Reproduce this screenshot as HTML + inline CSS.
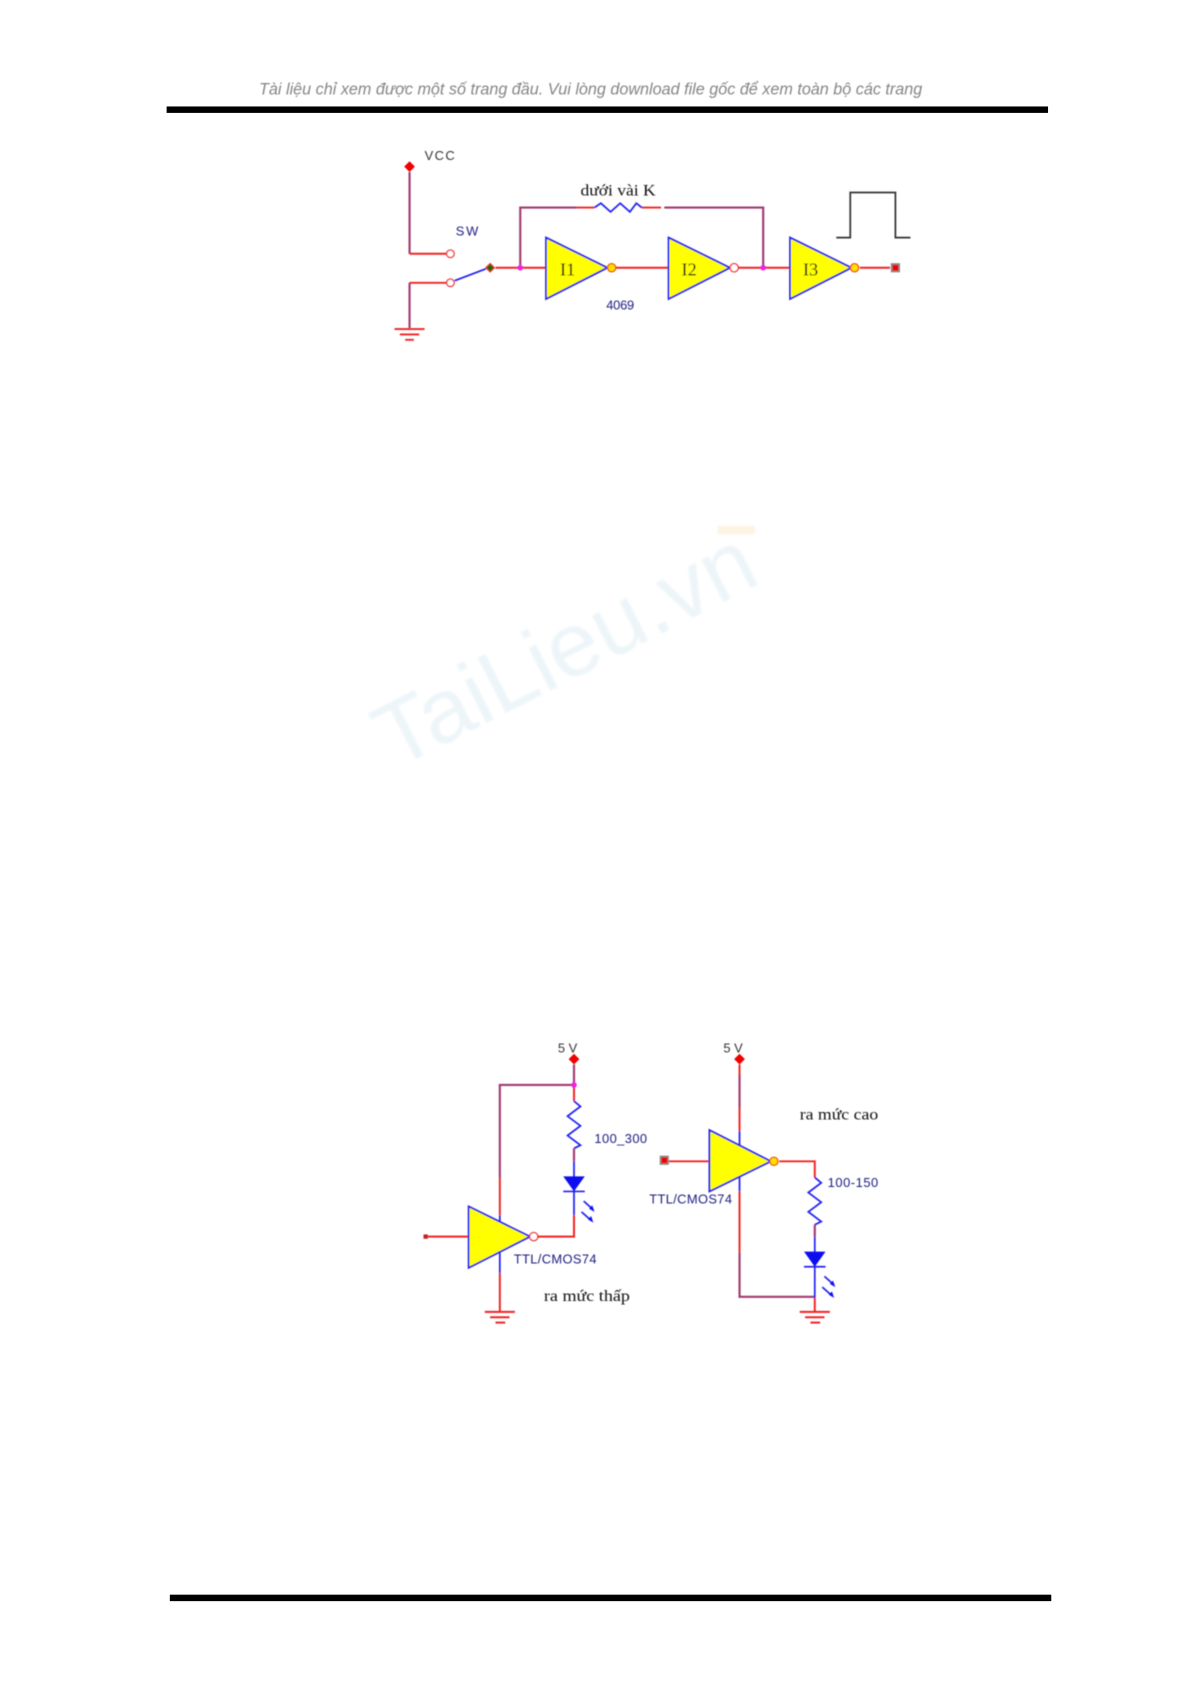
<!DOCTYPE html>
<html><head><meta charset="utf-8"><style>
html,body{margin:0;padding:0;background:#fff;width:1191px;height:1685px;overflow:hidden}
svg{display:block}
.a{font-family:"Liberation Sans",sans-serif;font-size:12px;fill:#1c1c80}
.k{font-family:"Liberation Sans",sans-serif;font-size:12px;fill:#333}
.s{font-family:"Liberation Serif",serif;font-size:15px;fill:#111}
.i{font-family:"Liberation Serif",serif;font-size:17px;fill:#111}
.r{stroke:#f02020;stroke-width:1.8;fill:none}
.p{stroke:#a03a70;stroke-width:2;fill:none}
.b{stroke:#2020f0;stroke-width:1.6;fill:none}
.t{fill:#ffff00;stroke:#2020f0;stroke-width:1.7}
.o{fill:#fff;stroke:#f02020;stroke-width:1.2}
.y{fill:#ffe000;stroke:#f05000;stroke-width:1.2}
.d{fill:#f00000}
.j{fill:#f020e0}
.q{fill:#f00000;stroke:#888;stroke-width:1.5}
</style></head><body>
<svg width="1191" height="1685" viewBox="0 0 1108 1567" preserveAspectRatio="none" xmlns="http://www.w3.org/2000/svg">
<defs><filter id="f" x="-5%" y="-5%" width="110%" height="110%"><feGaussianBlur stdDeviation="0.5"/></filter>
<filter id="w" x="-10%" y="-10%" width="120%" height="120%"><feGaussianBlur stdDeviation="1.1"/></filter></defs>
<rect width="1108" height="1567" fill="#fff"/>
<g filter="url(#w)">
<text x="367" y="716" transform="rotate(-27 367 716)" font-family="'Liberation Sans',sans-serif" font-size="84" fill="#edf5f9" textLength="385" lengthAdjust="spacingAndGlyphs">TaiLieu.vn</text>
<rect x="668" y="489" width="34" height="8" fill="#fdf3e2"/>
</g>
<text x="241" y="88" font-family="'Liberation Sans',sans-serif" font-style="italic" font-size="15.5" fill="#858585" textLength="617" lengthAdjust="spacingAndGlyphs" filter="url(#f)">Tài liệu chỉ xem được một số trang đầu. Vui lòng download file gốc để xem toàn bộ các trang</text>
<rect x="155" y="99" width="820" height="6" fill="#000"/>
<rect x="158" y="1483" width="820" height="6" fill="#000"/>

<g filter="url(#f)">
<!-- top circuit -->
<path class="p" d="M381 160V236"/><path class="r" d="M381 236H415"/>
<path class="r" d="M415 263H381"/><path class="p" d="M381 263V305"/>
<path class="r" d="M367 306H395M372 311H390M377 316H385"/>
<circle class="o" cx="419" cy="236" r="3.5"/><circle class="o" cx="419" cy="263" r="3.5"/>
<path class="b" d="M423 261L452 250"/>
<path d="M456 245L460 249L456 253L452 249Z" fill="#0a6a0a" stroke="#f02020"/>
<path class="r" d="M461 249H508M573 249H622M687 249H735M800 249H828"/>
<path class="p" d="M484 249V193H537M618 193H710V249"/>
<path class="r" d="M537 193H553M597 193H615"/>
<path class="b" d="M553 193L559 189L568 197L577 189L586 197L592 189L597 193"/>
<circle class="j" cx="484" cy="249" r="2.6"/><circle class="j" cx="710" cy="249" r="2.6"/>
<path class="t" d="M508 221V278L565 249Z"/><path class="t" d="M622 221V278L679 249Z"/><path class="t" d="M735 221V278L792 249Z"/>
<circle class="y" cx="569" cy="249" r="3.8"/><circle class="o" cx="683" cy="249" r="3.8"/><circle class="y" cx="795" cy="249" r="3.8"/>
<rect class="q" x="829.5" y="245.5" width="7" height="7"/>
<path d="M778 221H791V179H833V221H847" fill="none" stroke="#333" stroke-width="1.6"/>
<path class="d" d="M381 150L386 155L381 160L376 155Z"/>
<text class="k" x="395" y="149" textLength="28">VCC</text>
<text class="a" x="424" y="219" textLength="21" font-size="11">SW</text>
<text class="s" x="540" y="182" textLength="70" lengthAdjust="spacingAndGlyphs">dưới vài K</text>
<text class="a" x="564" y="288" textLength="26">4069</text>
<text class="i" x="521" y="256">I1</text><text class="i" x="634" y="256">I2</text><text class="i" x="747" y="256">I3</text>

<!-- bottom left -->
<path class="p" d="M534 990V1009H465V1095"/><path class="r" d="M534 1009V1024M465 1095V1130M465 1184V1220M534 1130V1150H500M398 1150H436"/>
<path class="b" d="M465 1130V1150M465 1165V1184"/>
<path class="b" d="M534 1024L540 1029L528 1038L540 1047L528 1056L540 1065L534 1068"/>
<path class="p" d="M534 1068V1080"/><path class="b" d="M534 1080V1130M524 1108H544"/>
<path d="M524 1094H544L534 1108Z" fill="#1010f0"/>
<path class="b" stroke-width="1" d="M543 1117L552 1125M541 1127L550 1135"/>
<path d="M553 1127L548 1124L551 1121Z M552 1137L547 1134L550 1131Z" fill="#1010f0"/>
<circle class="j" cx="534" cy="1009" r="2.6"/>
<path class="t" d="M436 1122V1179L493 1150Z"/>
<circle class="o" cx="496.500" cy="1150" r="3.8"/>
<rect x="394" y="1148" width="4" height="4" fill="#c02020"/>
<path class="r" d="M451 1220H479M456 1225H474M461 1230H470"/>
<path class="d" d="M534 980L539 985L534 990L529 985Z"/>
<text class="k" x="519" y="979" textLength="18">5V</text>
<text class="a" x="553" y="1063" textLength="49">100_300</text>
<text class="a" x="478" y="1175" textLength="77">TTL/CMOS74</text>
<text class="s" x="506" y="1210" textLength="80" lengthAdjust="spacingAndGlyphs">ra mức thấp</text>

<!-- bottom right -->
<path class="r" d="M688 990V1052M688 1108V1165M622 1080H660M725 1080H758V1095M758 1207V1220"/>
<path class="p" d="M688 1000V1030M688 1165V1206H758M758 1139V1150"/>
<path class="b" d="M688 1052V1065M688 1094V1108"/>
<path class="b" d="M758 1095L764 1100L752 1109L764 1118L752 1127L764 1136L758 1139"/>
<path class="b" d="M758 1150V1207M748 1178H768"/>
<path d="M748 1164H768L758 1178Z" fill="#1010f0"/>
<path class="b" stroke-width="1" d="M767 1187L776 1195M765 1197L774 1205"/>
<path d="M777 1197L772 1194L775 1191Z M776 1207L771 1204L774 1201Z" fill="#1010f0"/>
<path class="t" d="M660 1051V1108L717 1080Z"/>
<circle class="y" cx="720" cy="1080" r="3.8"/>
<rect class="q" x="614.500" y="1075.500" width="7" height="7"/>
<path class="r" d="M744 1220H772M749 1225H767M754 1230H763"/>
<path class="d" d="M688 980L693 985L688 990L683 985Z"/>
<text class="k" x="673" y="979" textLength="18">5V</text>
<text class="a" x="770" y="1104" textLength="47">100-150</text>
<text class="a" x="604" y="1119" textLength="77">TTL/CMOS74</text>
<text class="s" x="744" y="1041" textLength="73" lengthAdjust="spacingAndGlyphs">ra mức cao</text>
</g>
</svg>
</body></html>
